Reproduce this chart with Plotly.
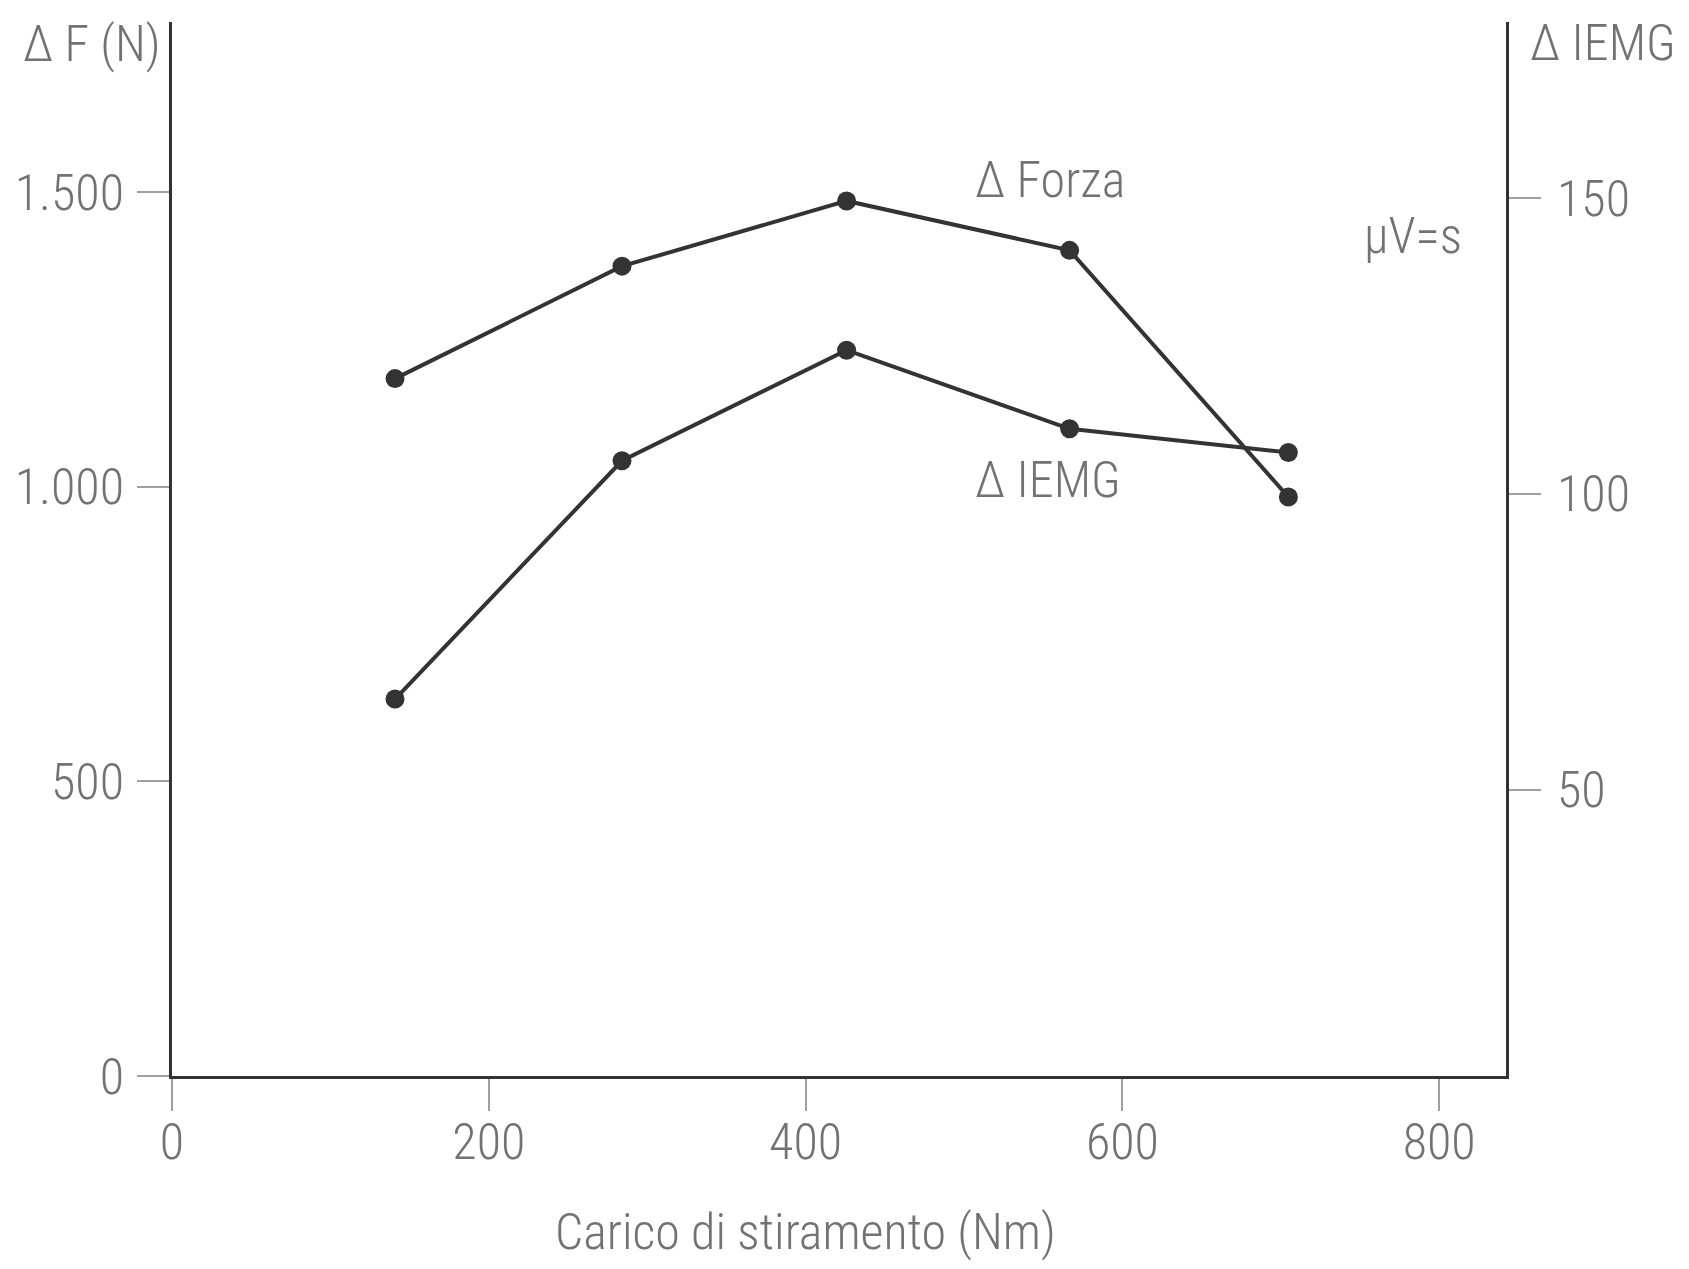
import plotly.graph_objects as go

# ---- data ----
carico = [140.8, 284.1, 425.9, 566.7, 704.8]          # Carico di stiramento (Nm)
delta_forza = [1183.7, 1374.6, 1485.3, 1401.4, 982.7]  # Δ F (N), left axis
delta_iemg = [65.3, 105.6, 124.3, 111.0, 107.0]        # Δ IEMG (µV·s), right axis

x_ticks = [0, 200, 400, 600, 800]
y_ticks = [0, 500, 1000, 1500]
y_tick_labels = ["0", "500", "1.000", "1.500"]
y2_ticks = [50, 100, 150]
y2_tick_labels = ["50", "100", "150"]

W, H = 1689, 1269
X0, X1, Y0, Y1 = 172.4, 1506.0, 21.5, 1076.0   # plot area in pixels


def px(x):
    return (x - X0) / (X1 - X0)


def py(y):
    return (Y1 - y) / (Y1 - Y0)


FONT = "Liberation Sans Narrow, Roboto Condensed, Liberation Sans, Arial, sans-serif"
TXT = "#727272"
LINE = "#333333"
FS = 50

fig = go.Figure()
fig.add_trace(go.Scatter(
    x=carico, y=delta_forza, mode="lines+markers", name="Δ Forza",
    line=dict(color=LINE, width=4), marker=dict(color=LINE, size=19),
    yaxis="y"))
fig.add_trace(go.Scatter(
    x=carico, y=delta_iemg, mode="lines+markers", name="Δ IEMG",
    line=dict(color=LINE, width=4), marker=dict(color=LINE, size=19),
    yaxis="y2"))

axis_common = dict(
    showgrid=False, zeroline=False, showline=True, linecolor=LINE, linewidth=3,
    ticks="outside", ticklen=32, tickwidth=2, tickcolor="#a0a0a0",
    tickfont=dict(family=FONT, size=FS, color=TXT, weight=300),
)

fig.update_layout(
    width=W, height=H,
    margin=dict(l=X0, r=W - X1, t=Y0, b=H - Y1, pad=0),
    paper_bgcolor="white", plot_bgcolor="white",
    showlegend=False,
    xaxis=dict(range=[0, 842.2], tickvals=x_ticks, ticktext=[str(v) for v in x_ticks],
               ticklabelstandoff=-12, **axis_common),
    yaxis=dict(range=[0, 1789], tickvals=y_ticks, ticktext=y_tick_labels,
               ticklabelstandoff=3, **axis_common),
    yaxis2=dict(range=[1.55, 179.8], tickvals=y2_ticks, ticktext=y2_tick_labels,
                overlaying="y", side="right", ticklabelstandoff=6, **axis_common),
)

ann_font = dict(family=FONT, size=FS, color=TXT, weight=300)
annotations = [
    dict(text="Δ F (N)", x=px(163), y=py(44), xanchor="right", yanchor="middle"),
    dict(text="Δ IEMG", x=px(1528), y=py(43), xanchor="left", yanchor="middle"),
    dict(text="Δ Forza", x=px(973), y=py(180), xanchor="left", yanchor="middle"),
    dict(text="Δ IEMG", x=px(973), y=py(480), xanchor="left", yanchor="middle"),
    dict(text="µV=s", x=px(1362), y=py(236), xanchor="left", yanchor="middle"),
    dict(text="Carico di stiramento (Nm)", x=px(806), y=py(1232),
         xanchor="center", yanchor="middle"),
]
for a in annotations:
    fig.add_annotation(xref="paper", yref="paper", showarrow=False, font=ann_font, **a)

fig.write_html("out.html")
